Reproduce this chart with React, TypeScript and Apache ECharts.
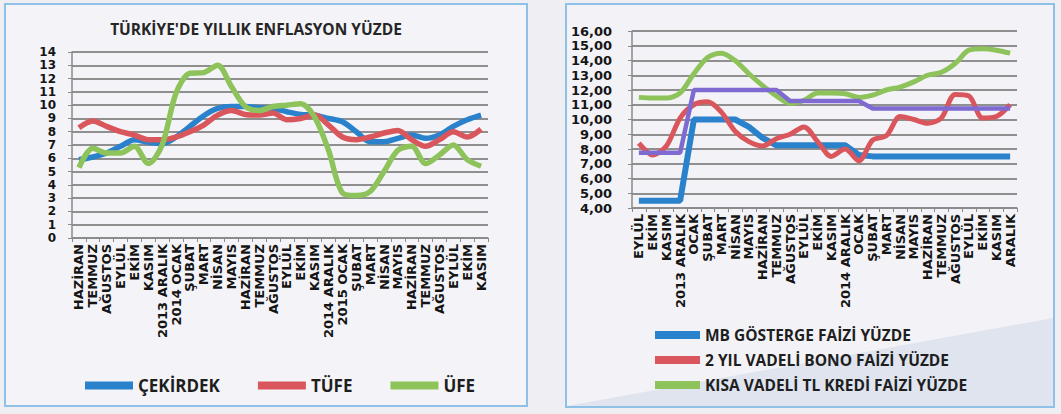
import React, { useEffect, useRef } from "react";
import * as echarts from "echarts";

// ---------- LEFT CHART DATA ----------
const leftCategories = [
  "HAZİRAN", "TEMMUZ", "AĞUSTOS", "EYLÜL", "EKİM", "KASIM", "2013 ARALIK", "2014 OCAK",
  "ŞUBAT", "MART", "NİSAN", "MAYIS", "HAZİRAN", "TEMMUZ", "AĞUSTOS", "EYLÜL", "EKİM",
  "KASIM", "2014 ARALIK", "2015 OCAK", "ŞUBAT", "MART", "NİSAN", "MAYIS", "HAZİRAN",
  "TEMMUZ", "AĞUSTOS", "EYLÜL", "EKİM", "KASIM",
];
const coreInflation = [
  5.9, 6.1, 6.4, 6.9, 7.4, 7.2, 7.1, 7.6, 8.4, 9.2, 9.75, 9.9, 9.9, 9.8, 9.75,
  9.5, 9.3, 9.25, 9.0, 8.75, 8.0, 7.25, 7.25, 7.5, 7.75, 7.5, 7.75, 8.4, 8.9, 9.25,
];
const cpiInflation = [
  8.3, 8.8, 8.4, 8.0, 7.75, 7.4, 7.4, 7.6, 8.0, 8.5, 9.25, 9.6, 9.3, 9.25, 9.4,
  8.9, 9.0, 9.25, 8.5, 7.6, 7.4, 7.6, 7.9, 8.1, 7.4, 6.9, 7.4, 8.0, 7.6, 8.2,
];
const ppiInflation = [
  5.3, 6.75, 6.4, 6.4, 6.9, 5.6, 7.0, 10.9, 12.4, 12.45, 13.0, 11.4, 9.9, 9.6, 9.9,
  10.0, 10.1, 9.1, 6.6, 3.4, 3.2, 3.5, 5.0, 6.6, 6.9, 5.6, 6.25, 7.0, 5.9, 5.4,
];
const leftTitle = "TÜRKİYE'DE YILLIK ENFLASYON YÜZDE";
const leftNames = ["ÇEKİRDEK", "TÜFE", "ÜFE"];

// ---------- RIGHT CHART DATA ----------
const rightCategories = [
  "EYLÜL", "EKİM", "KASIM", "2013 ARALIK", "OCAK", "ŞUBAT", "MART", "NİSAN", "MAYIS",
  "HAZİRAN", "TEMMUZ", "AĞUSTOS", "EYLÜL", "EKİM", "KASIM", "2014 ARALIK", "OCAK",
  "ŞUBAT", "MART", "NİSAN", "MAYIS", "HAZİRAN", "TEMMUZ", "AĞUSTOS", "EYLÜL", "EKİM",
  "KASIM", "ARALIK",
];
const policyRate = [
  4.5, 4.5, 4.5, 4.5, 10, 10, 10, 10, 9.5, 8.75, 8.25, 8.25, 8.25, 8.25, 8.25, 8.25,
  7.6, 7.5, 7.5, 7.5, 7.5, 7.5, 7.5, 7.5, 7.5, 7.5, 7.5, 7.5,
];
const bondRate = [
  8.4, 7.6, 8.2, 10.1, 11.0, 11.2, 10.5, 9.2, 8.5, 8.2, 8.7, 9.0, 9.5, 8.5, 7.5, 8.0,
  7.2, 8.6, 8.9, 10.2, 10.0, 9.75, 10.1, 11.7, 11.6, 10.1, 10.2, 11.0,
];
const loanRate = [
  11.5, 11.45, 11.45, 11.8, 13.1, 14.2, 14.5, 14.0, 13.1, 12.3, 11.6, 11.1, 11.3, 11.8,
  11.8, 11.75, 11.5, 11.65, 12.0, 12.2, 12.55, 13.0, 13.2, 13.8, 14.7, 14.8, 14.7, 14.5,
];
const upperBand = [
  7.75, 7.75, 7.75, 7.75, 12, 12, 12, 12, 12, 12, 12, 11.25, 11.25, 11.25, 11.25, 11.25,
  11.25, 10.75, 10.75, 10.75, 10.75, 10.75, 10.75, 10.75, 10.75, 10.75, 10.75, 10.75,
];
const rightNames = [
  "MB GÖSTERGE FAİZİ YÜZDE",
  "2 YIL VADELİ BONO FAİZİ YÜZDE",
  "KISA VADELİ TL KREDİ FAİZİ YÜZDE",
];

const BLUE = "#2a82cc";
const RED = "#d9565c";
const GREEN = "#8dc35a";
const PURPLE = "#7f6ad2";
const LABELF = '"DejaVu Sans", "Liberation Sans", sans-serif';
const BOLDF = '"Open Sans", "Liberation Sans", sans-serif';

function xAxisCfg(gridIndex: number, data: string[]) {
  return {
    type: "category",
    gridIndex,
    data,
    boundaryGap: true,
    axisLine: { show: true, lineStyle: { color: "#8a8a8a", width: 1.5 } },
    axisTick: { show: true, interval: 0, length: 4, lineStyle: { color: "#8a8a8a" } },
    axisLabel: {
      interval: 0,
      rotate: 90,
      margin: 6,
      fontSize: 13,
      fontWeight: "bold",
      color: "#151515",
      fontFamily: LABELF,
    },
    splitLine: { show: false },
  };
}

function yAxisCfg(
  gridIndex: number,
  min: number,
  max: number,
  margin: number,
  size: number,
  fmt?: (v: number) => string
) {
  return {
    type: "value",
    gridIndex,
    min,
    max,
    interval: 1,
    axisLine: { show: true, lineStyle: { color: "#8a8a8a", width: 1.5 } },
    axisTick: { show: true, length: 4, lineStyle: { color: "#8a8a8a" } },
    splitLine: { show: true, lineStyle: { color: "#6e6e6e", width: 1.6 } },
    axisLabel: {
      margin,
      showMinLabel: true,
      showMaxLabel: true,
      fontSize: size,
      fontWeight: "bold",
      color: "#151515",
      fontFamily: LABELF,
      formatter: fmt,
    },
  };
}

function lineSeries(
  name: string,
  data: number[],
  color: string,
  xi: number,
  width: number,
  smooth: number | boolean
) {
  return {
    type: "line",
    name,
    data,
    xAxisIndex: xi,
    yAxisIndex: xi,
    showSymbol: false,
    symbol: "none",
    smooth,
    itemStyle: { color },
    lineStyle: { color, width },
  };
}

export default function App() {
  const ref = useRef<HTMLDivElement>(null);
  useEffect(() => {
    if (!ref.current) return;
    const chart = echarts.init(ref.current, null, { renderer: "svg" });
    chart.setOption({
      animation: false,
      backgroundColor: "#efeff3",
      graphic: [
        {
          type: "rect",
          z: -10,
          shape: { x: 5, y: 4, width: 522, height: 402 },
          style: { fill: "#f4f4f8", stroke: "#8ec1e8", lineWidth: 2 },
        },
        {
          type: "rect",
          z: -10,
          shape: { x: 566, y: 4, width: 488, height: 403 },
          style: { fill: "#f3f3f7", stroke: "#8ec1e8", lineWidth: 2 },
        },
        {
          type: "polygon",
          z: -9,
          shape: { points: [[567, 406], [1053, 318], [1053, 406]] },
          style: { fill: "rgba(185,200,222,0.35)" },
        },
        {
          type: "text",
          x: 256,
          y: 29,
          style: {
            text: leftTitle,
            fontSize: 15.5,
            fontWeight: "bold",
            fontFamily: BOLDF,
            fill: "#262626",
            align: "center",
            verticalAlign: "middle",
            textAlign: "center",
            textVerticalAlign: "middle",
          },
        },
      ],
      legend: [
        {
          data: leftNames,
          left: 80,
          top: 372,
          orient: "horizontal",
          icon: "rect",
          itemWidth: 48,
          itemHeight: 8,
          itemGap: 38,
          textStyle: { fontSize: 17, fontWeight: "bold", color: "#1e1e1e", fontFamily: BOLDF },
        },
        {
          data: rightNames,
          left: 650,
          top: 322,
          orient: "vertical",
          icon: "rect",
          itemWidth: 45,
          itemHeight: 8,
          itemGap: 9,
          textStyle: { fontSize: 15.5, fontWeight: "bold", color: "#1e1e1e", fontFamily: BOLDF },
        },
      ],
      grid: [
        { left: 72, top: 52, width: 416, height: 186 },
        { left: 632, top: 31, width: 385, height: 177 },
      ],
      xAxis: [xAxisCfg(0, leftCategories), xAxisCfg(1, rightCategories)],
      yAxis: [
        yAxisCfg(0, 0, 14, 16, 12),
        yAxisCfg(1, 4, 16, 20, 13, (v: number) => v.toFixed(2).replace(".", ",")),
      ],
      series: [
        lineSeries(leftNames[0], coreInflation, BLUE, 0, 5.5, 0.3),
        lineSeries(leftNames[1], cpiInflation, RED, 0, 5.5, 0.3),
        lineSeries(leftNames[2], ppiInflation, GREEN, 0, 5.5, 0.3),
        lineSeries(rightNames[0], policyRate, BLUE, 1, 6, false),
        lineSeries(rightNames[1], bondRate, RED, 1, 5, 0.3),
        lineSeries(rightNames[2], loanRate, GREEN, 1, 5, 0.3),
        lineSeries("ÜST BANT", upperBand, PURPLE, 1, 4.5, false),
      ],
    });
    return () => chart.dispose();
  }, []);
  return (
    <div
      ref={ref}
      style={{ position: "absolute", left: 0, top: 0, width: 1061, height: 414 }}
    />
  );
}
